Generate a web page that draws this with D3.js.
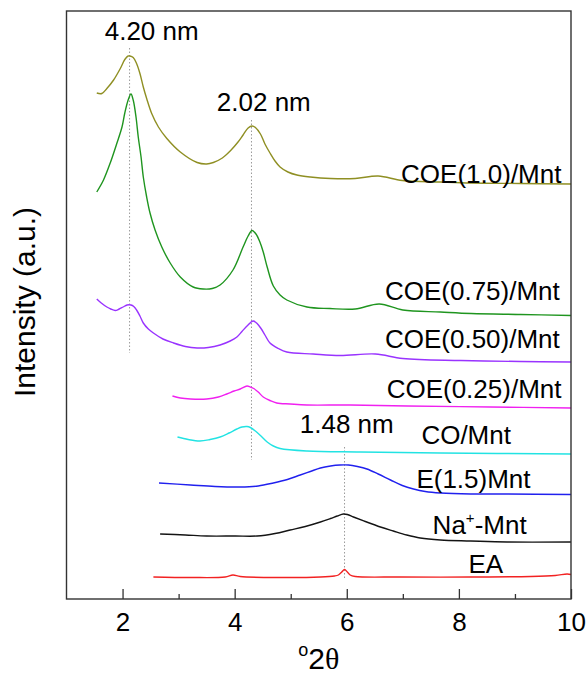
<!DOCTYPE html>
<html>
<head>
<meta charset="utf-8">
<script src="https://cdn.jsdelivr.net/npm/d3@7"></script>
<style>
  body { margin: 0; background: #fff; }
  text { font-family: "Liberation Sans", Arial, sans-serif; fill: #000; }
</style>
</head>
<body>
<div class="chart"></div>
<script>
var svgWidth = 588;
var svgHeight = 688;

var margin = { top: 11, right: 17, bottom: 89, left: 66.5 };
var width = svgWidth - margin.left - margin.right;
var height = svgHeight - margin.top - margin.bottom;

// series, top to bottom ([2theta, intensity a.u.], stacked)
var seriesNames = ["COE(1.0)/Mnt", "COE(0.75)/Mnt", "COE(0.50)/Mnt", "COE(0.25)/Mnt",
  "CO/Mnt", "E(1.5)Mnt", "Na+-Mnt", "EA"];
var seriesColors = ["#8f8f23", "#1f951f", "#9933ff", "#f020f0", "#22e3e3", "#2020ee", "#141414", "#f22222"];

var coe10 = [[1.54,506],[1.63,505.5],[1.72,510.5],[1.84,519],[1.96,530.5],[2.04,539.5],[2.10,543],[2.13,543],
  [2.19,541.5],[2.25,535.5],[2.31,525.5],[2.37,512],[2.43,500.5],[2.52,485.5],[2.64,472],[2.79,460.5],
  [3.03,447],[3.33,436.5],[3.50,435],[3.62,436.5],[3.78,441],[3.92,448],[4.06,457],[4.15,464],[4.24,471],
  [4.31,473],[4.37,471.5],[4.46,465],[4.54,455],[4.63,446],[4.72,438],[4.81,432],[4.95,427],[5.11,424],
  [5.35,422],[5.71,420.5],[6.15,420.5],[6.56,423],[6.99,418.5],[7.67,417],[8.22,416],[9.10,415.5],[10.0,415]];
var coe075 = [[1.54,407],[1.66,419],[1.78,436],[1.90,456],[1.99,472],[2.04,486],[2.10,499],[2.15,505],
  [2.19,499],[2.24,482],[2.28,462],[2.33,442],[2.37,422],[2.43,402],[2.49,386],[2.58,369],[2.70,352],
  [2.85,336],[3.03,322],[3.26,312],[3.44,310],[3.60,310.5],[3.74,314],[3.97,329],[4.15,352],[4.24,363],
  [4.31,368.5],[4.38,365],[4.45,357],[4.51,347],[4.58,332],[4.69,313],[4.81,304],[4.93,299],[5.29,292],
  [5.70,290.5],[6.15,290],[6.58,295],[7.00,289],[7.67,287],[8.22,285.5],[9.10,284.5],[10.0,283.5]];
var coe050 = [[1.54,300],[1.62,296],[1.72,292],[1.79,290],[1.87,288.5],[1.94,290],[2.01,292],[2.08,294],
  [2.15,294],[2.20,292.5],[2.25,289],[2.31,283],[2.37,276],[2.46,270],[2.55,266],[2.72,260],[2.91,256],
  [3.12,252.5],[3.33,251],[3.53,251.5],[3.74,254],[3.92,258],[4.04,262],[4.13,267.5],[4.22,273],[4.33,278],
  [4.40,275.5],[4.47,270.5],[4.54,264],[4.63,256],[4.78,250.5],[4.93,247],[5.40,245],[5.88,243.5],[6.51,245],
  [7.00,240.5],[8.03,238.5],[9.10,237.5],[10.0,237]];
var coe025 = [[2.89,203],[3.03,201],[3.21,200],[3.50,200],[3.71,202],[3.86,205],[3.99,208],[4.10,210],
  [4.22,213],[4.28,212],[4.34,210.5],[4.42,207],[4.51,202],[4.63,198.5],[4.75,196],[4.99,195],[5.29,194],
  [6.06,194],[7.08,193],[8.56,192],[10.0,191]];
var coMnt = [[2.98,162],[3.17,159.5],[3.38,158],[3.56,159.5],[3.74,162],[3.90,166],[4.04,170],[4.13,172],
  [4.22,172.5],[4.28,171.5],[4.37,168],[4.46,163.5],[4.58,157],[4.69,153],[4.81,150.5],[5.29,148],[6.24,147],
  [7.67,146],[10.0,145]];
var e15Mnt = [[2.65,116],[3.21,114],[3.65,112.5],[4.10,112],[4.42,113],[4.69,116],[4.94,119.5],[5.17,124],
  [5.35,127.5],[5.53,131],[5.71,133],[5.88,134],[6.03,134],[6.19,132.5],[6.36,130],[6.56,125],[6.78,119],
  [6.99,113.5],[7.19,110],[7.40,107.5],[7.67,106],[8.21,105],[8.86,105],[10.0,104.5]];
var naMnt = [[2.67,65],[3.12,64],[3.50,63],[4.01,63],[4.40,63],[4.72,65.5],[4.99,69],[5.26,72.5],[5.53,77],
  [5.71,80.5],[5.83,83],[5.94,85],[6.01,84.5],[6.12,82],[6.33,77.5],[6.60,72],[6.83,68],[7.07,64],[7.31,61],
  [7.67,59],[8.21,58],[8.86,57],[10.0,57]];
var ea = [[2.55,22],[3.21,21.5],[3.83,22],[3.97,24],[4.10,22.5],[4.81,21.5],[5.53,22],[5.78,23],[5.85,24],
  [5.91,27],[5.96,29.5],[6.01,27],[6.06,24],[6.15,22.5],[6.95,22],[8.21,22],[9.28,22.5],[9.72,23.5],
  [9.93,25],[10.0,24.5]];
var seriesValues = [coe10, coe075, coe050, coe025, coMnt, e15Mnt, naMnt, ea];

// d-spacing markers: label, 2theta, intensity range of the dotted line
var dLabels = ["4.20 nm", "2.02 nm", "1.48 nm"];
var dPositions = [2.125, 4.30, 5.96];
var dRanges = [[246, 551], [139, 479], [19, 152]];

var xTicks = [2, 4, 6, 8, 10];
var xMinorTicks = [3, 5, 7, 9];

var svg = d3.select(".chart")
  .append("svg")
  .attr("width", svgWidth)
  .attr("height", svgHeight)
  .append("g")
  .attr("transform", "translate(" + margin.left + "," + margin.top + ")");

var xScale = d3.scaleLinear().domain([1, 10]).range([0, width]);
var yScale = d3.scaleLinear().domain([0, 588]).range([height, 0]);

// dotted guide lines
svg.selectAll(".guide")
  .data(dPositions)
  .enter().append("line")
  .attr("class", "guide")
  .attr("x1", function(d) { return xScale(d); })
  .attr("x2", function(d) { return xScale(d); })
  .attr("y1", function(d, i) { return yScale(dRanges[i][1]); })
  .attr("y2", function(d, i) { return yScale(dRanges[i][0]); })
  .attr("stroke", "#9a9a9a")
  .attr("stroke-width", 1)
  .attr("stroke-dasharray", "1.5,2");

var line = d3.line()
  .x(function(d) { return xScale(d[0]); })
  .y(function(d) { return yScale(d[1]); })
  .curve(d3.curveCatmullRom.alpha(0.5));

svg.selectAll(".trace")
  .data(seriesValues)
  .enter().append("path")
  .attr("class", "trace")
  .attr("d", line)
  .attr("fill", "none")
  .attr("stroke", function(d, i) { return seriesColors[i]; })
  .attr("stroke-width", 1.4)
  .attr("stroke-linejoin", "round");

// axes
svg.append("g")
  .attr("transform", "translate(0," + height + ")")
  .call(d3.axisBottom(xScale).tickValues(xMinorTicks).tickSizeInner(-5).tickSizeOuter(0).tickFormat(""))
  .call(function(g) { g.select(".domain").remove(); });

var bottom = svg.append("g")
  .attr("transform", "translate(0," + height + ")")
  .call(d3.axisBottom(xScale).tickValues(xTicks).tickSizeInner(-10).tickSizeOuter(0).tickPadding(14));
bottom.select(".domain").remove();
bottom.selectAll("text").style("font-size", "26px").attr("font-family", "Liberation Sans, Arial, sans-serif");
svg.selectAll(".tick line").attr("stroke", "#333").attr("stroke-width", 1.3);

svg.append("rect")
  .attr("x", 0).attr("y", 0)
  .attr("width", width).attr("height", height)
  .attr("fill", "none")
  .attr("stroke", "#333")
  .attr("stroke-width", 1.4);

// series labels (placed in data units)
var labelSpots = [[9.83, 416], [9.80, 299], [9.80, 251], [9.83, 201], [8.13, 155], [8.26, 111], [8.37, 65], [8.48, 26]];
var labels = svg.selectAll(".slabel")
  .data(seriesNames)
  .enter().append("text")
  .attr("class", "slabel")
  .attr("x", function(d, i) { return xScale(labelSpots[i][0]); })
  .attr("y", function(d, i) { return yScale(labelSpots[i][1]); })
  .attr("text-anchor", function(d, i) { return i < 4 ? "end" : "middle"; })
  .style("font-size", "26px");

labels.each(function(d) {
  var t = d3.select(this);
  if (d.indexOf("+") > 0) {
    var parts = d.split("+");
    t.append("tspan").text(parts[0]);
    t.append("tspan").text("+").style("font-size", "15px").attr("dy", "-0.75em");
    t.append("tspan").text(parts[1]).attr("dy", "0.43em");
  } else {
    t.text(d);
  }
});

// d-spacing labels
var dLabelSpots = [[2.52, 559], [4.52, 488], [6.0, 166]];
svg.selectAll(".dlabel")
  .data(dLabels)
  .enter().append("text")
  .attr("class", "dlabel")
  .attr("x", function(d, i) { return xScale(dLabelSpots[i][0]); })
  .attr("y", function(d, i) { return yScale(dLabelSpots[i][1]); })
  .attr("text-anchor", "middle")
  .style("font-size", "26px")
  .text(function(d) { return d; });

// axis titles
svg.append("text")
  .attr("transform", "rotate(-90)")
  .attr("x", -(302 - margin.top))
  .attr("y", 35 - margin.left)
  .attr("text-anchor", "middle")
  .style("font-size", "30px")
  .text("Intensity (a.u.)");

var xTitle = svg.append("text")
  .attr("x", width / 2)
  .attr("y", height + 70)
  .attr("text-anchor", "middle")
  .style("font-size", "30px");
xTitle.append("tspan").text("o").style("font-size", "18px").attr("dy", "-0.7em");
xTitle.append("tspan").text("2").attr("dy", "0.42em");
xTitle.append("tspan").text("\u03b8").attr("font-family", "Liberation Serif, Times New Roman, serif");
</script>
</body>
</html>
